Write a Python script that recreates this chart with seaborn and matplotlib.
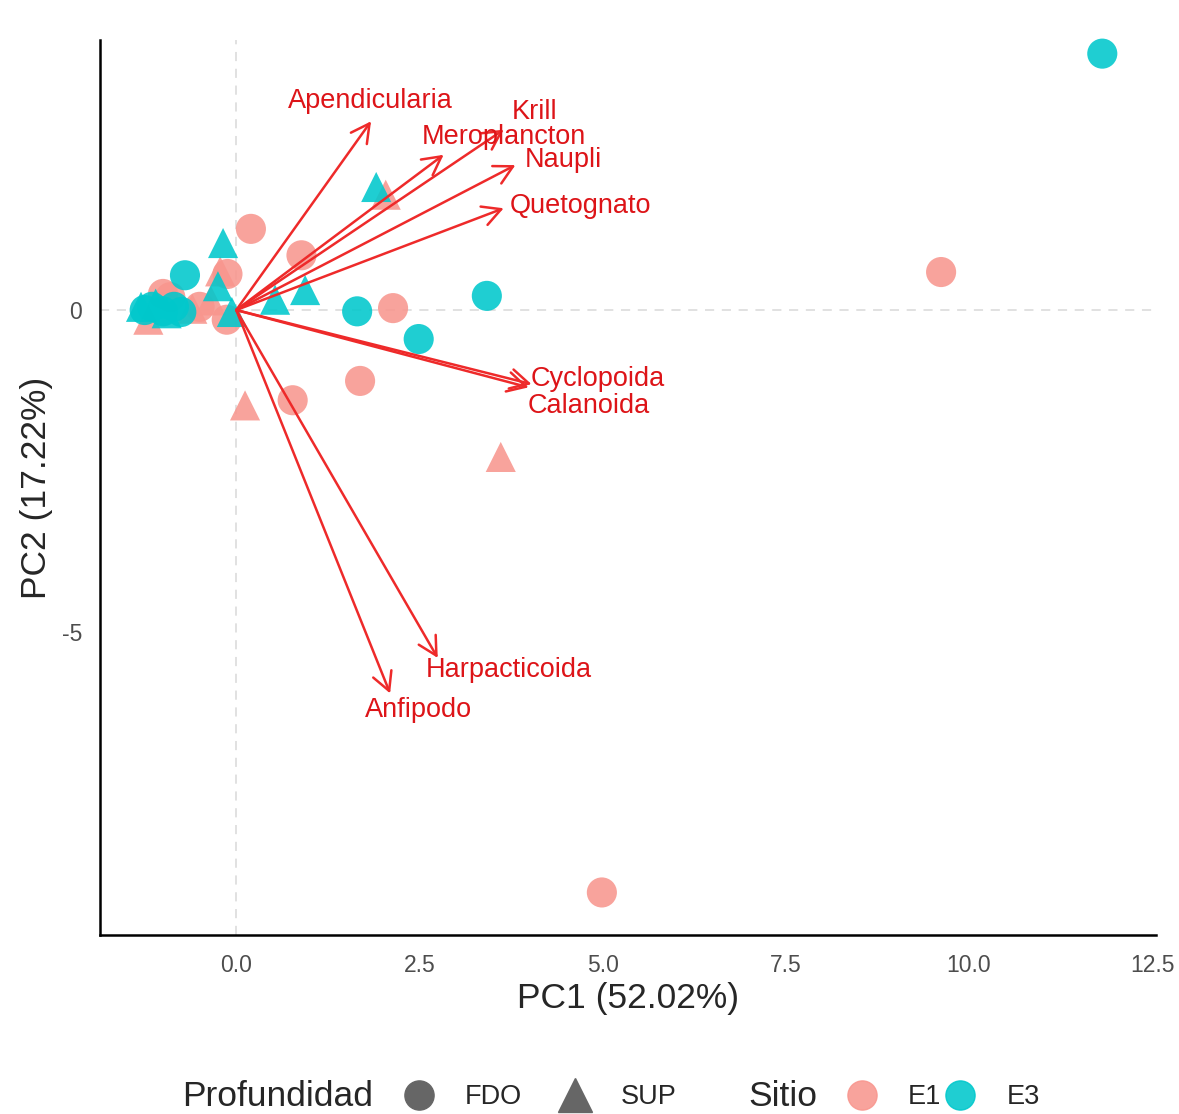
import numpy as np
import pandas as pd
import matplotlib.pyplot as plt
from matplotlib.lines import Line2D
import seaborn as sns

# scores (individuos)
pc1 = [9.62, 4.99, 0.20, 0.89, 2.14, 1.69, 0.77, -0.12, -0.13, -0.90, -0.50, -1.00,
       0.12, 3.61, 2.04, -0.22, -1.20, -0.60, -0.35,
       11.82, 3.42, 2.49, 1.65, -0.70, -1.15, -1.00, -0.85, -0.75, -1.25,
       1.91, -0.18, 0.94, 0.53, -0.25, -0.06, -1.30, -1.10, -0.95]
pc2 = [0.59, -9.04, 1.26, 0.85, 0.03, -1.10, -1.40, 0.56, -0.15, 0.20, 0.05, 0.25,
       -1.48, -2.28, 1.79, 0.60, -0.15, 0.02, 0.15,
       3.98, 0.22, -0.45, -0.02, 0.54, 0.05, -0.02, 0.05, -0.03, 0.00,
       1.91, 1.04, 0.31, 0.16, 0.37, -0.03, 0.05, 0.10, -0.05]
sitio = ["E1"] * 19 + ["E3"] * 19
profundidad = (["FDO"] * 12 + ["SUP"] * 7 + ["FDO"] * 10 + ["SUP"] * 9)

# loadings (variables)
variables = ["Apendicularia", "Meroplancton", "Krill", "Naupli", "Quetognato",
             "Cyclopoida", "Calanoida", "Harpacticoida", "Anfipodo"]
load_x = [1.84, 2.83, 3.65, 3.81, 3.65, 4.03, 3.99, 2.75, 2.10]
load_y = [2.93, 2.41, 2.80, 2.25, 1.58, -1.15, -1.20, -5.40, -5.95]
lab_x = [1.83, 3.65, 4.07, 4.47, 4.70, 4.93, 4.81, 3.72, 2.49]
lab_y = [3.25, 2.69, 3.07, 2.33, 1.61, -1.07, -1.49, -5.59, -6.21]

df = pd.DataFrame({"PC1": pc1, "PC2": pc2, "Sitio": sitio, "Profundidad": profundidad})

sns.set_style("white")
plt.rcParams["font.family"] = ["Liberation Sans", "DejaVu Sans"]

colores = {"E1": "#F8968E", "E3": "#00C8CC"}

fig = plt.figure(figsize=(11.79, 11.14), dpi=100)
ax = fig.add_axes([0.0848, 0.1607, 0.8955, 0.8033])

ax.axhline(0, color="#D9D9D9", lw=1.1, ls=(0, (6, 5)), zorder=0)
ax.axvline(0, color="#D9D9D9", lw=1.1, ls=(0, (6, 5)), zorder=0)

sns.scatterplot(data=df, x="PC1", y="PC2", hue="Sitio", style="Profundidad",
                markers={"FDO": "o", "SUP": "^"}, palette=colores, s=470,
                alpha=0.88, linewidth=0, legend=False, ax=ax, zorder=2,
                clip_on=False)

for nombre, x, y, tx, ty in zip(variables, load_x, load_y, lab_x, lab_y):
    ax.annotate("", xy=(x, y), xytext=(0, 0),
                arrowprops=dict(arrowstyle="->,head_length=0.6,head_width=0.32",
                                color="#EE2A2A", lw=1.8, shrinkA=0, shrinkB=0,
                                mutation_scale=22), zorder=3)
    ax.text(tx, ty, nombre, ha="center", va="center", color="#DD1418",
            fontsize=19.5, zorder=4)

ax.set_xlim(-1.86, 12.55)
ax.set_ylim(-9.70, 4.19)
ax.set_xticks([0, 2.5, 5, 7.5, 10, 12.5])
ax.set_xticklabels(["0.0", "2.5", "5.0", "7.5", "10.0", "12.5"])
ax.set_yticks([-5, 0])
ax.set_yticklabels(["-5", "0"])
ax.tick_params(axis="both", labelsize=16.5, labelcolor="#4D4D4D", color="#333333",
               length=5, width=1.1)
ax.tick_params(axis="x", pad=9)
ax.tick_params(axis="y", pad=8)
ax.set_xlabel("PC1 (52.02%)", fontsize=25.5, labelpad=3)
ax.set_ylabel("PC2 (17.22%)", fontsize=25.5, labelpad=6)
for lado in ["top", "right"]:
    ax.spines[lado].set_visible(False)
for lado in ["left", "bottom"]:
    ax.spines[lado].set_color("black")
    ax.spines[lado].set_linewidth(1.8)

# leyenda inferior
y_leg = 1 - 1097 / 1114
fig.text(182 / 1179, y_leg, "Profundidad", fontsize=25.5, ha="left", va="center")
h_prof = [Line2D([], [], marker="o", ls="", color="#666666", markersize=21),
          Line2D([], [], marker="^", ls="", color="#666666", markersize=24)]
fig.legend(h_prof, ["FDO", "SUP"], loc="center left", bbox_to_anchor=(400 / 1179, y_leg),
           ncol=2, frameon=False, fontsize=19.5, handletextpad=1.0, columnspacing=1.25,
           handlelength=1.4, borderpad=0, borderaxespad=0)
fig.text(748 / 1179, y_leg, "Sitio", fontsize=25.5, ha="left", va="center")
h_sitio = [Line2D([], [], marker="o", ls="", color=colores["E1"], alpha=0.88, markersize=21),
           Line2D([], [], marker="o", ls="", color=colores["E3"], alpha=0.88, markersize=21)]
fig.legend(h_sitio, ["E1", "E3"], loc="center left", bbox_to_anchor=(843 / 1179, y_leg),
           ncol=2, frameon=False, fontsize=19.5, handletextpad=1.0, columnspacing=0.0,
           handlelength=1.4, borderpad=0, borderaxespad=0)

fig.savefig("out.png", dpi=100)
